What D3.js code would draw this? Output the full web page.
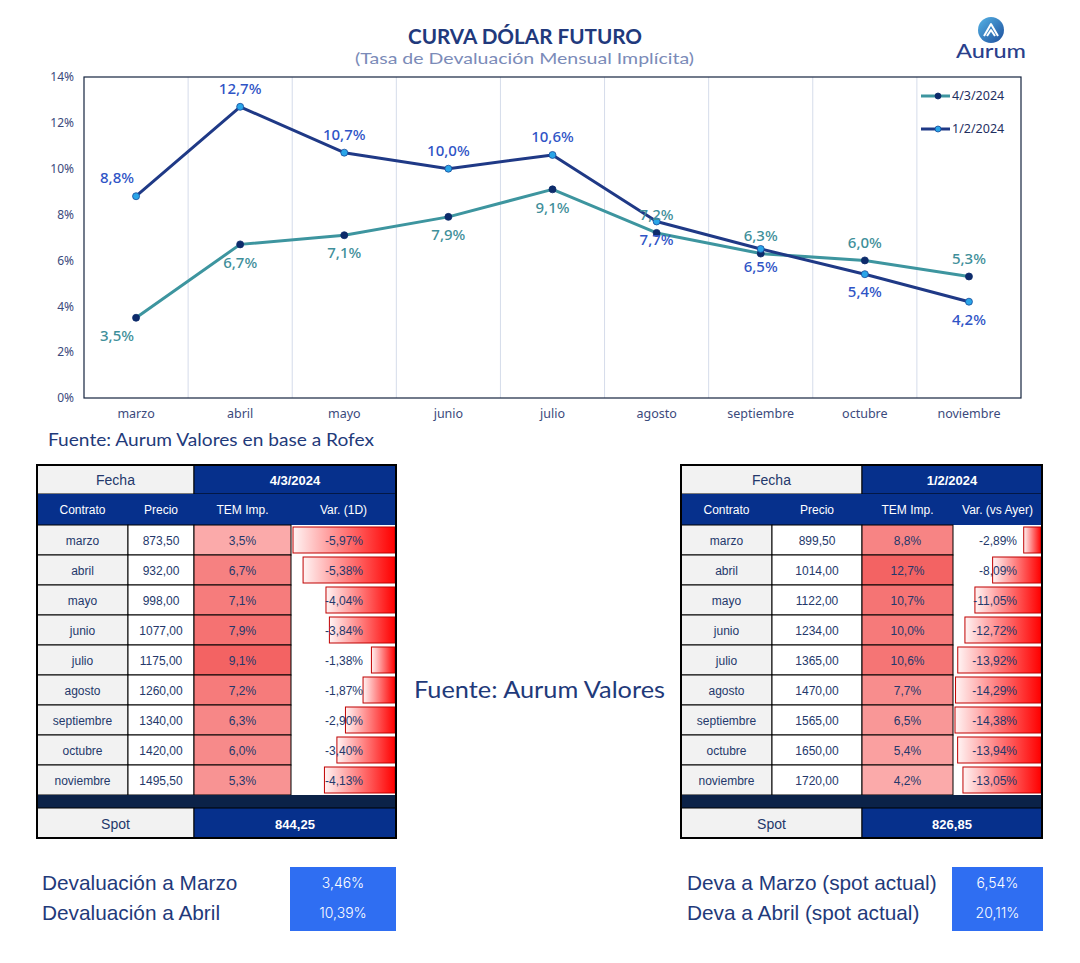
<!DOCTYPE html>
<html>
<head>
<meta charset="utf-8">
<script src="https://cdn.jsdelivr.net/npm/d3@7"></script>
<style>
  body { margin: 0; background: #ffffff; }
  svg { display: block; }
</style>
</head>
<body>
<svg id="chart" width="1080" height="963"></svg>
<script>
// ---- data ----
var months = ["marzo", "abril", "mayo", "junio", "julio", "agosto", "septiembre", "octubre", "noviembre"];
var seriesNames = ["4/3/2024", "1/2/2024"];
var temA = [3.5, 6.7, 7.1, 7.9, 9.1, 7.2, 6.3, 6.0, 5.3];
var temB = [8.8, 12.7, 10.7, 10.0, 10.6, 7.7, 6.5, 5.4, 4.2];
var yTicks = [0, 2, 4, 6, 8, 10, 12, 14];

var precioA = [873.5, 932, 998, 1077, 1175, 1260, 1340, 1420, 1495.5];
var varA = [-5.97, -5.38, -4.04, -3.84, -1.38, -1.87, -2.90, -3.40, -4.13];
var spotA = 844.25;
var precioB = [899.5, 1014, 1122, 1234, 1365, 1470, 1565, 1650, 1720];
var varB = [-2.89, -8.09, -11.05, -12.72, -13.92, -14.29, -14.38, -13.94, -13.05];
var spotB = 826.85;

var devaLabelsA = ["Devaluación a Marzo", "Devaluación a Abril"];
var devaA = [3.46, 10.39];
var devaLabelsB = ["Deva a Marzo (spot actual)", "Deva a Abril (spot actual)"];
var devaB = [6.54, 20.11];

// ---- setup ----
var loc = d3.formatLocale({decimal: ",", thousands: ".", grouping: [3], currency: ["", ""], minus: "-"});
var f1 = loc.format(".1f"), f2 = loc.format(".2f");
var navy = "#1f3a7a";
var chartFont = "'Noto Sans', Lato, sans-serif";
var tableFont = "'Liberation Sans', Arial, sans-serif";

var svg = d3.select("#chart");

var defs = svg.append("defs");
var grad = defs.append("linearGradient").attr("id", "barGrad")
    .attr("x1", "0%").attr("x2", "100%").attr("y1", "0%").attr("y2", "0%");
grad.append("stop").attr("offset", "0%").attr("stop-color", "#fff4f4");
grad.append("stop").attr("offset", "100%").attr("stop-color", "#ff0000");
var lgrad = defs.append("linearGradient").attr("id", "logoGrad")
    .attr("x1", "0%").attr("x2", "100%").attr("y1", "0%").attr("y2", "100%");
lgrad.append("stop").attr("offset", "0%").attr("stop-color", "#56b4e6");
lgrad.append("stop").attr("offset", "100%").attr("stop-color", "#1d4e9c");

// text stretched to the width it has in the original
function fitText(tx, ty, w, size, weight, color, str) {
  return svg.append("text").attr("x", tx).attr("y", ty)
      .attr("textLength", w).attr("lengthAdjust", "spacingAndGlyphs")
      .style("font-family", "Lato, sans-serif").style("font-size", size + "px")
      .style("font-weight", weight).style("fill", color).text(str);
}

// ---- titles ----
fitText(408, 44, 234, 20, 700, "#21397c", "CURVA DÓLAR FUTURO");
fitText(355, 64, 339, 16, 400, "#7b8bb8", "(Tasa de Devaluación Mensual Implícita)");

// logo
svg.append("circle").attr("cx", 991).attr("cy", 30).attr("r", 13).attr("fill", "url(#logoGrad)");
svg.append("path").attr("d", "M984,36 L991,24 L998,36 M987,36 L991,30 L995,36")
    .attr("fill", "none").attr("stroke", "#fff").attr("stroke-width", 2).attr("stroke-linejoin", "round");
fitText(956, 58, 70, 20, 500, "#2a3f8c", "Aurum");

// ---- line chart ----
var x = d3.scaleBand().domain(months).range([84, 1021]).padding(0);
var y = d3.scaleLinear().domain([0, 14]).range([398, 77]);
var cx = function(m) { return x(m) + x.bandwidth() / 2; };

var plot = svg.append("g");
plot.selectAll("line.grid").data(months.slice(1)).enter().append("line")
    .attr("class", "grid")
    .attr("x1", function(d) { return x(d); }).attr("x2", function(d) { return x(d); })
    .attr("y1", 77).attr("y2", 398)
    .attr("stroke", "#d5dcea").attr("stroke-width", 1);
plot.append("rect").attr("x", 84).attr("y", 77).attr("width", 937).attr("height", 321)
    .attr("fill", "none").attr("stroke", "#14233f").attr("stroke-width", 1.2);

var yAxis = plot.append("g").attr("transform", "translate(78,0)")
    .call(d3.axisLeft(y).tickValues(yTicks).tickSize(0).tickFormat(function(d) { return d + "%"; }));
yAxis.select(".domain").remove();
yAxis.selectAll("text").style("font-family", chartFont).style("font-size", "12px").style("fill", "#3b4a7c")
    .attr("x", -4);

var xAxis = plot.append("g").attr("transform", "translate(0,404)")
    .call(d3.axisBottom(x).tickSize(0));
xAxis.select(".domain").remove();
xAxis.selectAll("text").style("font-family", chartFont).style("font-size", "12.5px").style("fill", "#3b4a7c")
    .attr("dy", "0.85em");

var series = [
  {name: seriesNames[0], values: temA, line: "#3d959f", dot: "#0d2b6b", dotStroke: "#0d2b6b", label: "#3f8f9a",
   above: [false, false, false, false, false, true, true, true, true]},
  {name: seriesNames[1], values: temB, line: "#1f3986", dot: "#2aa5e8", dotStroke: "#174a9a", label: "#2f54c6",
   above: [true, true, true, true, true, false, false, false, false]}
];

var lineGen = d3.line().x(function(d, i) { return cx(months[i]); }).y(function(d) { return y(d); });

series.forEach(function(s) {
  plot.append("path").datum(s.values).attr("d", lineGen)
      .attr("fill", "none").attr("stroke", s.line).attr("stroke-width", 3).attr("stroke-linejoin", "round");
});
series.forEach(function(s) {
  plot.selectAll(null).data(s.values).enter().append("circle")
      .attr("cx", function(d, i) { return cx(months[i]); })
      .attr("cy", function(d) { return y(d); })
      .attr("r", 3.5).attr("fill", s.dot).attr("stroke", s.dotStroke).attr("stroke-width", 0.8);
});
series.forEach(function(s) {
  plot.selectAll(null).data(s.values).enter().append("text")
      .attr("x", function(d, i) { return cx(months[i]) + (i == 0 ? -19 : 0); })
      .attr("y", function(d, i) { return y(d) + (s.above[i] ? -18 : 18); })
      .attr("dy", "0.35em").attr("text-anchor", "middle")
      .style("font-family", chartFont).style("font-size", "15px").style("font-weight", "500")
      .style("fill", s.label)
      .text(function(d) { return f1(d) + "%"; });
});

// legend
var legend = plot.append("g");
series.forEach(function(s, i) {
  var ly = 96 + i * 33;
  legend.append("line").attr("x1", 921).attr("x2", 950).attr("y1", ly).attr("y2", ly)
      .attr("stroke", s.line).attr("stroke-width", 3);
  legend.append("circle").attr("cx", 938).attr("cy", ly).attr("r", 3)
      .attr("fill", s.dot).attr("stroke", s.dotStroke).attr("stroke-width", 0.8);
  legend.append("text").attr("x", 952).attr("y", ly).attr("dy", "0.35em")
      .style("font-family", chartFont).style("font-size", "12.5px").style("fill", "#1f2f5f")
      .text(s.name);
});

fitText(48, 446, 326, 17, 400, navy, "Fuente: Aurum Valores en base a Rofex");
fitText(414, 698, 251, 23, 400, navy, "Fuente: Aurum Valores");

// ---- tables ----
function drawTable(cols, date, varHeader, precios, tems, vars, spot, varPad) {
  var g = svg.append("g");
  var top = 465, rowH = 30;
  var headTop = top + 29, bodyTop = headTop + 31;
  var bodyBottom = bodyTop + rowH * months.length;
  var spotTop = bodyBottom + 13, spotBottom = spotTop + 30;
  var cellText = "#24386b";

  var temColor = d3.scaleLinear().domain(d3.extent(tems)).range(["#fbaaaa", "#f36363"]);
  var varW = cols[4] - cols[3];
  var barW = d3.scaleLinear().domain([0, d3.max(vars, function(d) { return Math.abs(d); })]).range([0, varW - 3]);

  // fecha row
  g.append("rect").attr("x", cols[0]).attr("y", top).attr("width", cols[2] - cols[0]).attr("height", 29)
      .attr("fill", "#f2f2f2").attr("stroke", "#000");
  g.append("rect").attr("x", cols[2]).attr("y", top).attr("width", cols[4] - cols[2]).attr("height", 29)
      .attr("fill", "#06308c").attr("stroke", "#000");
  g.append("text").attr("x", (cols[0] + cols[2]) / 2).attr("y", top + 15).attr("dy", "0.35em")
      .attr("text-anchor", "middle").style("font-family", tableFont).style("font-size", "14px")
      .style("fill", cellText).text("Fecha");
  g.append("text").attr("x", (cols[2] + cols[4]) / 2).attr("y", top + 15).attr("dy", "0.35em")
      .attr("text-anchor", "middle").style("font-family", tableFont).style("font-size", "13px")
      .style("font-weight", "700").style("fill", "#fff").text(date);

  // header row
  var heads = ["Contrato", "Precio", "TEM Imp.", varHeader];
  g.append("rect").attr("x", cols[0]).attr("y", headTop).attr("width", cols[4] - cols[0]).attr("height", 31)
      .attr("fill", "#06308c");
  heads.forEach(function(h, i) {
    g.append("text").attr("x", (cols[i] + cols[i + 1]) / 2).attr("y", headTop + 16).attr("dy", "0.35em")
        .attr("text-anchor", "middle").style("font-family", tableFont).style("font-size", "12px")
        .style("fill", "#fff").text(h);
  });

  // body
  months.forEach(function(m, r) {
    var ry = bodyTop + r * rowH;
    g.append("rect").attr("x", cols[0]).attr("y", ry).attr("width", cols[1] - cols[0]).attr("height", rowH)
        .attr("fill", "#f2f2f2").attr("stroke", "#000");
    g.append("rect").attr("x", cols[1]).attr("y", ry).attr("width", cols[2] - cols[1]).attr("height", rowH)
        .attr("fill", "#fff").attr("stroke", "#000");
    g.append("rect").attr("x", cols[2]).attr("y", ry).attr("width", cols[3] - cols[2]).attr("height", rowH)
        .attr("fill", temColor(tems[r])).attr("stroke", "#000");
    var bw = barW(Math.abs(vars[r]));
    g.append("rect").attr("x", cols[4] - 1 - bw).attr("y", ry + 2).attr("width", bw).attr("height", rowH - 4)
        .attr("fill", "url(#barGrad)").attr("stroke", "#c00000").attr("stroke-width", 1);

    var texts = [m, f2(precios[r]), f1(tems[r]) + "%"];
    texts.forEach(function(t, i) {
      g.append("text").attr("x", (cols[i] + cols[i + 1]) / 2).attr("y", ry + 16).attr("dy", "0.35em")
          .attr("text-anchor", "middle").style("font-family", tableFont).style("font-size", "12px")
          .style("fill", cellText).text(t);
    });
    g.append("text").attr("x", cols[4] - varPad).attr("y", ry + 16).attr("dy", "0.35em")
        .attr("text-anchor", "end").style("font-family", tableFont).style("font-size", "12px")
        .style("fill", cellText).text(f2(vars[r]) + "%");
  });

  // dark separator + spot
  g.append("rect").attr("x", cols[0]).attr("y", bodyBottom).attr("width", cols[4] - cols[0]).attr("height", 13)
      .attr("fill", "#0b2248");
  g.append("rect").attr("x", cols[0]).attr("y", spotTop).attr("width", cols[2] - cols[0]).attr("height", 30)
      .attr("fill", "#f2f2f2").attr("stroke", "#000");
  g.append("rect").attr("x", cols[2]).attr("y", spotTop).attr("width", cols[4] - cols[2]).attr("height", 30)
      .attr("fill", "#06308c").attr("stroke", "#000");
  g.append("text").attr("x", (cols[0] + cols[2]) / 2).attr("y", spotTop + 16).attr("dy", "0.35em")
      .attr("text-anchor", "middle").style("font-family", tableFont).style("font-size", "14px")
      .style("fill", cellText).text("Spot");
  g.append("text").attr("x", (cols[2] + cols[4]) / 2).attr("y", spotTop + 16).attr("dy", "0.35em")
      .attr("text-anchor", "middle").style("font-family", tableFont).style("font-size", "13px")
      .style("font-weight", "700").style("fill", "#fff").text(f2(spot));

  // outer border
  g.append("rect").attr("x", cols[0]).attr("y", top).attr("width", cols[4] - cols[0]).attr("height", spotBottom - top)
      .attr("fill", "none").attr("stroke", "#000").attr("stroke-width", 2);
}

drawTable([37, 128, 194, 291, 396], seriesNames[0], "Var. (1D)", precioA, temA, varA, spotA, 33);
drawTable([681, 772, 862, 953, 1042], seriesNames[1], "Var. (vs Ayer)", precioB, temB, varB, spotB, 25);

// ---- devaluation boxes ----
function drawDeva(labels, values, tx, bx, bw) {
  var g = svg.append("g");
  g.append("rect").attr("x", bx).attr("y", 867).attr("width", bw).attr("height", 64).attr("fill", "#2f6ef2");
  labels.forEach(function(l, i) {
    var ly = 883 + i * 30;
    g.append("text").attr("x", tx).attr("y", ly).attr("dy", "0.35em")
        .style("font-family", tableFont).style("font-size", "20.8px").style("fill", navy).text(l);
    g.append("text").attr("x", bx + bw / 2).attr("y", ly).attr("dy", "0.35em").attr("text-anchor", "middle")
        .style("font-family", "Inter, sans-serif").style("font-size", "14px").style("font-weight", "300")
        .style("fill", "#fff").text(f2(values[i]) + "%");
  });
}
drawDeva(devaLabelsA, devaA, 42, 290, 106);
drawDeva(devaLabelsB, devaB, 687, 952, 91);
</script>
</body>
</html>
